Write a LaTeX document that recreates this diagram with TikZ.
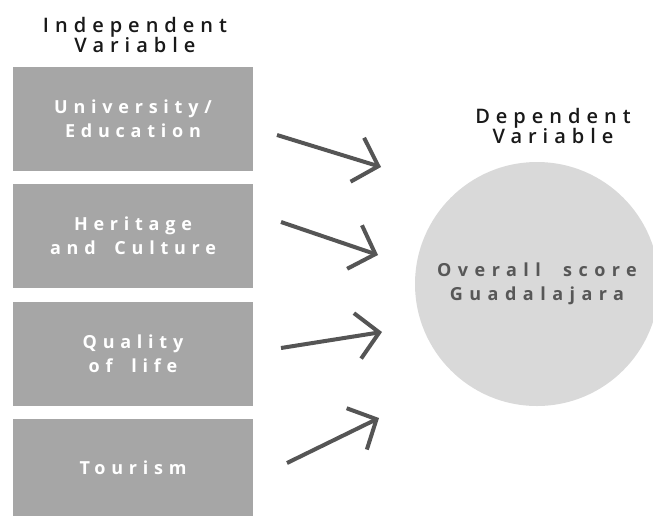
\documentclass[tikz,border=0pt]{standalone}
\usepackage{fontspec}
\setmainfont{Open Sans}
\newfontfamily\spacedfont[LetterSpace=32,WordSpace=1.8]{Open Sans}
\newfontfamily\widefont[LetterSpace=30,WordSpace=2]{Open Sans Semibold}
\newfontfamily\circfont[LetterSpace=36,WordSpace=2]{Open Sans}
\usetikzlibrary{arrows.meta}
\definecolor{boxgray}{HTML}{A6A6A6}
\definecolor{circgray}{HTML}{D9D9D9}
\definecolor{arrgray}{HTML}{555555}
\definecolor{textgray}{HTML}{575757}
\begin{document}
\begin{tikzpicture}[x=1pt,y=-1pt,
    varbox/.style={fill=boxgray, minimum width=240pt, minimum height=104pt, inner sep=0pt,
      align=center, text=white, font=\spacedfont\bfseries\fontsize{18}{24}\selectfont},
    title/.style={align=center, text=black!90, font=\widefont\fontsize{20}{20}\selectfont},
    arr/.style={-{Straight Barb[length=22pt,width=46pt]}, line width=4pt, draw=arrgray}]
    \useasboundingbox (0,0) rectangle (653,517);

    % headings
    \node[title] (indep) at (135,35) {Independent\\Variable};
    \node[title] (dep) at (553,126) {Dependent\\Variable};

    % the four boxes
    \node[varbox] (edu) at (133,119) {University/\\Education};
    \node[varbox] (heri) at (133,236) {Heritage\\and Culture};
    \node[varbox] (qual) at (133,354) {Quality\\of life};
    \node[varbox, minimum height=97pt] (tour) at (133,467.5) {Tourism};

    % the circle
    \node[circle, fill=circgray, minimum size=244pt, inner sep=0pt, align=center,
      text=textgray, font=\circfont\bfseries\fontsize{18}{24}\selectfont] (score) at (537,284)
      {Overall score\\Guadalajara};

    % arrows
    \coordinate (edu-s) at (277,135);  \coordinate (edu-t) at (381,167);
    \coordinate (heri-s) at (281,222); \coordinate (heri-t) at (378,255);
    \coordinate (qual-s) at (281,348); \coordinate (qual-t) at (382,332);
    \coordinate (tour-s) at (287,463); \coordinate (tour-t) at (379,418);
    \draw[arr] (edu-s) -- (edu-t);
    \draw[arr] (heri-s) -- (heri-t);
    \draw[arr] (qual-s) -- (qual-t);
    \draw[arr] (tour-s) -- (tour-t);
\end{tikzpicture}
\end{document}
